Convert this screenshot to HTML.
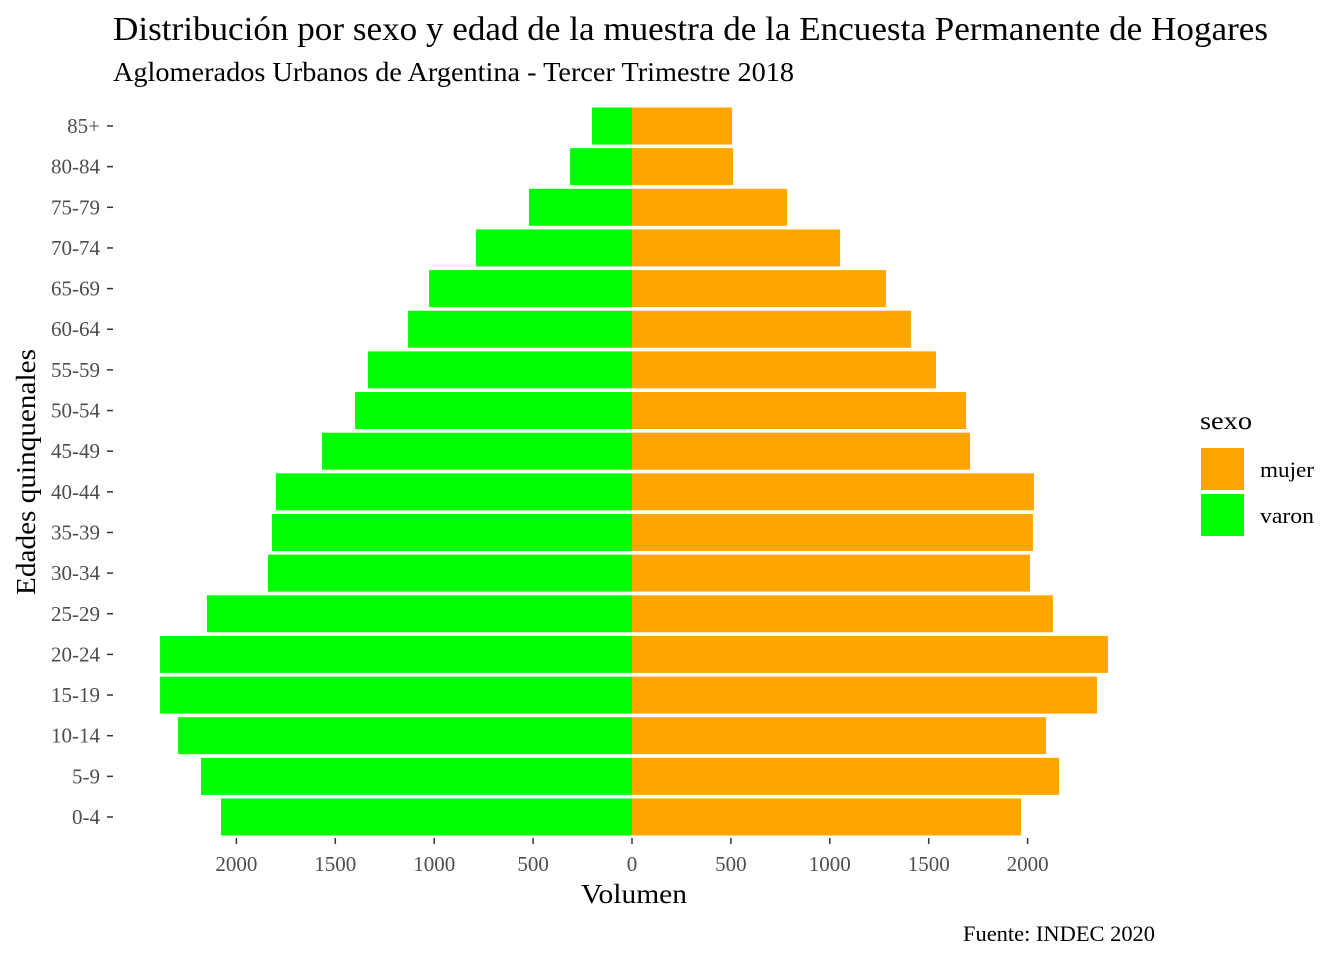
<!DOCTYPE html>
<html><head><meta charset="utf-8"><style>
html,body{margin:0;padding:0;background:#fff;}
svg text{font-family:"Liberation Serif",serif;}
</style></head><body>
<svg id="chart" width="1344" height="960" xmlns="http://www.w3.org/2000/svg">
<text x="113" y="40" font-size="34" fill="#000" textLength="1155" lengthAdjust="spacingAndGlyphs">Distribución por sexo y edad de la muestra de la Encuesta Permanente de Hogares</text>
<text x="113" y="81" font-size="27" fill="#000" textLength="681" lengthAdjust="spacingAndGlyphs">Aglomerados Urbanos de Argentina - Tercer Trimestre 2018</text>
<g id="bars"></g>
<g id="yaxis"></g>
<g id="xaxis"></g>
<text x="634" y="903" font-size="27" text-anchor="middle" textLength="106" lengthAdjust="spacingAndGlyphs">Volumen</text>
<text transform="translate(35,472) rotate(-90)" font-size="27" text-anchor="middle" textLength="246" lengthAdjust="spacingAndGlyphs">Edades quinquenales</text>
<g>
<text x="1200" y="429" font-size="25" textLength="52" lengthAdjust="spacingAndGlyphs">sexo</text>
<rect x="1201" y="448" width="43" height="42" fill="#FFA500"/>
<text x="1260" y="477" font-size="22" textLength="54" lengthAdjust="spacingAndGlyphs">mujer</text>
<rect x="1201" y="494" width="43" height="42" fill="#00FF00"/>
<text x="1260" y="523" font-size="22" textLength="54" lengthAdjust="spacingAndGlyphs">varon</text>
</g>
<text x="963" y="941" font-size="22" textLength="192" lengthAdjust="spacingAndGlyphs">Fuente: INDEC 2020</text>
</svg>
<script>
const categories=["0-4","5-9","10-14","15-19","20-24","25-29","30-34","35-39","40-44","45-49","50-54","55-59","60-64","65-69","70-74","75-79","80-84","85+"];
const mujer=[1967,2159,2093,2351,2406,2128,2012,2027,2032,1709,1689,1537,1411,1284,1052,784,511,506];
const varon=[2078,2179,2295,2386,2386,2149,1840,1820,1800,1567,1400,1335,1132,1026,789,521,313,202];
const xTicks=[-2000,-1500,-1000,-500,0,500,1000,1500,2000];
const NS="http://www.w3.org/2000/svg";
const x0=632,k=0.1978;
function xs(v){return x0+v*k;}
const yTop=126,yBot=817;
function ys(i){return yBot-i*(yBot-yTop)/(categories.length-1);}
const bh=37;
const bars=document.getElementById('bars'),ya=document.getElementById('yaxis'),xa=document.getElementById('xaxis');
function mk(t,a){const e=document.createElementNS(NS,t);for(const n in a)e.setAttribute(n,a[n]);return e;}
categories.forEach((c,i)=>{
 const y=ys(i);
 const m=mk('rect',{x:xs(0),y:y-bh/2,width:xs(mujer[i])-xs(0),height:bh,fill:'#FFA500'});
 
 
 bars.appendChild(m);
 const v=mk('rect',{x:xs(-varon[i]),y:y-bh/2,width:xs(0)-xs(-varon[i]),height:bh,fill:'#00FF00'});
 
 
 bars.appendChild(v);
 const tk=mk('line',{x1:107,x2:113,y1:y,y2:y,stroke:'#333','stroke-width':1.5});
 
 
 ya.appendChild(tk);
 const t=mk('text',{x:100,y:y+7,'font-size':21,'text-anchor':'end',fill:'#4d4d4d'});
 t.textContent=c;
 
 
 ya.appendChild(t);
});
xTicks.forEach(v=>{
 const x=xs(v);
 const tk=mk('line',{x1:x,x2:x,y1:838,y2:844,stroke:'#333','stroke-width':1.5});
 
 
 xa.appendChild(tk);
 const t=mk('text',{x:x,y:871,'font-size':21,'text-anchor':'middle',fill:'#4d4d4d'});
 t.textContent=Math.abs(v);
 
 
 xa.appendChild(t);
});
</script>
</body></html>
